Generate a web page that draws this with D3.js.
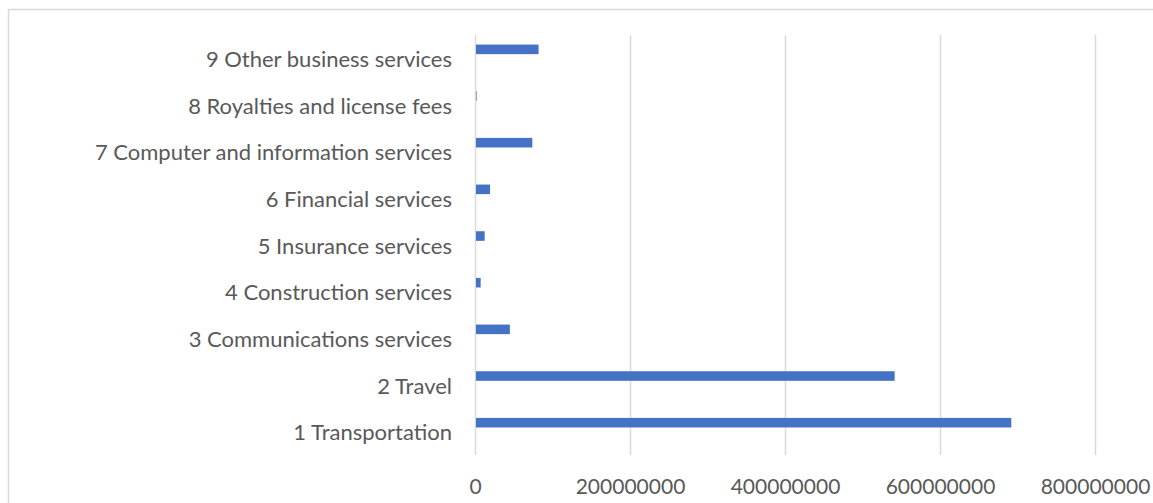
<!DOCTYPE html>
<html>
<head>
<meta charset="utf-8">
<script src="https://cdn.jsdelivr.net/npm/d3@7"></script>
<style>
  html, body { margin: 0; padding: 0; background: #fff; }
  svg { display: block; }
</style>
</head>
<body>
<div id="container"></div>
<script>
const categories = [
  "1 Transportation",
  "2 Travel",
  "3 Communications services",
  "4 Construction services",
  "5 Insurance services",
  "6 Financial services",
  "7 Computer and information services",
  "8 Royalties and license fees",
  "9 Other business services"
];
const values = [692000000, 541500000, 45000000, 7300000, 12500000, 19400000, 74000000, 1200000, 82000000];
const xTicks = [0, 200000000, 400000000, 600000000, 800000000];

const width = 1153;
const height = 503;
const marginTop = 35;
const marginBottom = 48;
const marginLeft = 475;
const marginRight = 58;

const textColor = "#595959";
const gridColor = "#d9d9d9";
const barColor = "#4472c4";
const font = "Lato, 'Open Sans', sans-serif";

const x = d3.scaleLinear()
  .domain([0, 800000000])
  .range([marginLeft, width - marginRight]);

const y = d3.scaleBand()
  .domain(categories.slice().reverse())
  .range([marginTop, height - marginBottom]);

const svg = d3.create("svg").attr("width", width).attr("height", height);

// chart border
svg.append("rect")
  .attr("x", 8.5)
  .attr("y", 9.5)
  .attr("width", 1150)
  .attr("height", 500)
  .attr("fill", "none")
  .attr("stroke", gridColor)
  .attr("stroke-width", 1.5);

// vertical gridlines
svg.append("g")
  .attr("transform", `translate(0,${height - marginBottom})`)
  .call(d3.axisBottom(x).tickValues(xTicks).tickSize(-(height - marginBottom - marginTop)).tickFormat(""))
  .call(g => g.select(".domain").remove())
  .call(g => g.selectAll(".tick line").attr("stroke", gridColor).attr("stroke-width", 1.5));

// bars (offset within band like Excel's clustered bar)
const bw = y.bandwidth();
svg.append("g")
  .selectAll("rect")
  .data(categories)
  .join("rect")
  .attr("x", x(0) + 1)
  .attr("y", (d) => y(d) + bw * 0.205)
  .attr("width", (d, i) => Math.max(0.6, x(values[i]) - x(0) - 1))
  .attr("height", bw * 0.205)
  .attr("fill", barColor);

// x tick labels
svg.append("g")
  .attr("transform", `translate(0,${height - marginBottom})`)
  .call(d3.axisBottom(x).tickValues(xTicks).tickSize(0).tickPadding(24).tickFormat(d3.format("d")))
  .call(g => g.select(".domain").remove())
  .call(g => g.selectAll("text")
    .attr("fill", textColor)
    .style("font-family", font)
    .style("font-size", "21px"));

// category labels
svg.append("g")
  .attr("transform", `translate(${marginLeft},0)`)
  .call(d3.axisLeft(y).tickSize(0).tickPadding(23))
  .call(g => g.select(".domain").remove())
  .call(g => g.selectAll("text")
    .attr("fill", textColor)
    .attr("dy", "0.4em")
    .style("font-family", font)
    .style("font-size", "22px"));

d3.select("#container").append(() => svg.node());
</script>
</body>
</html>
